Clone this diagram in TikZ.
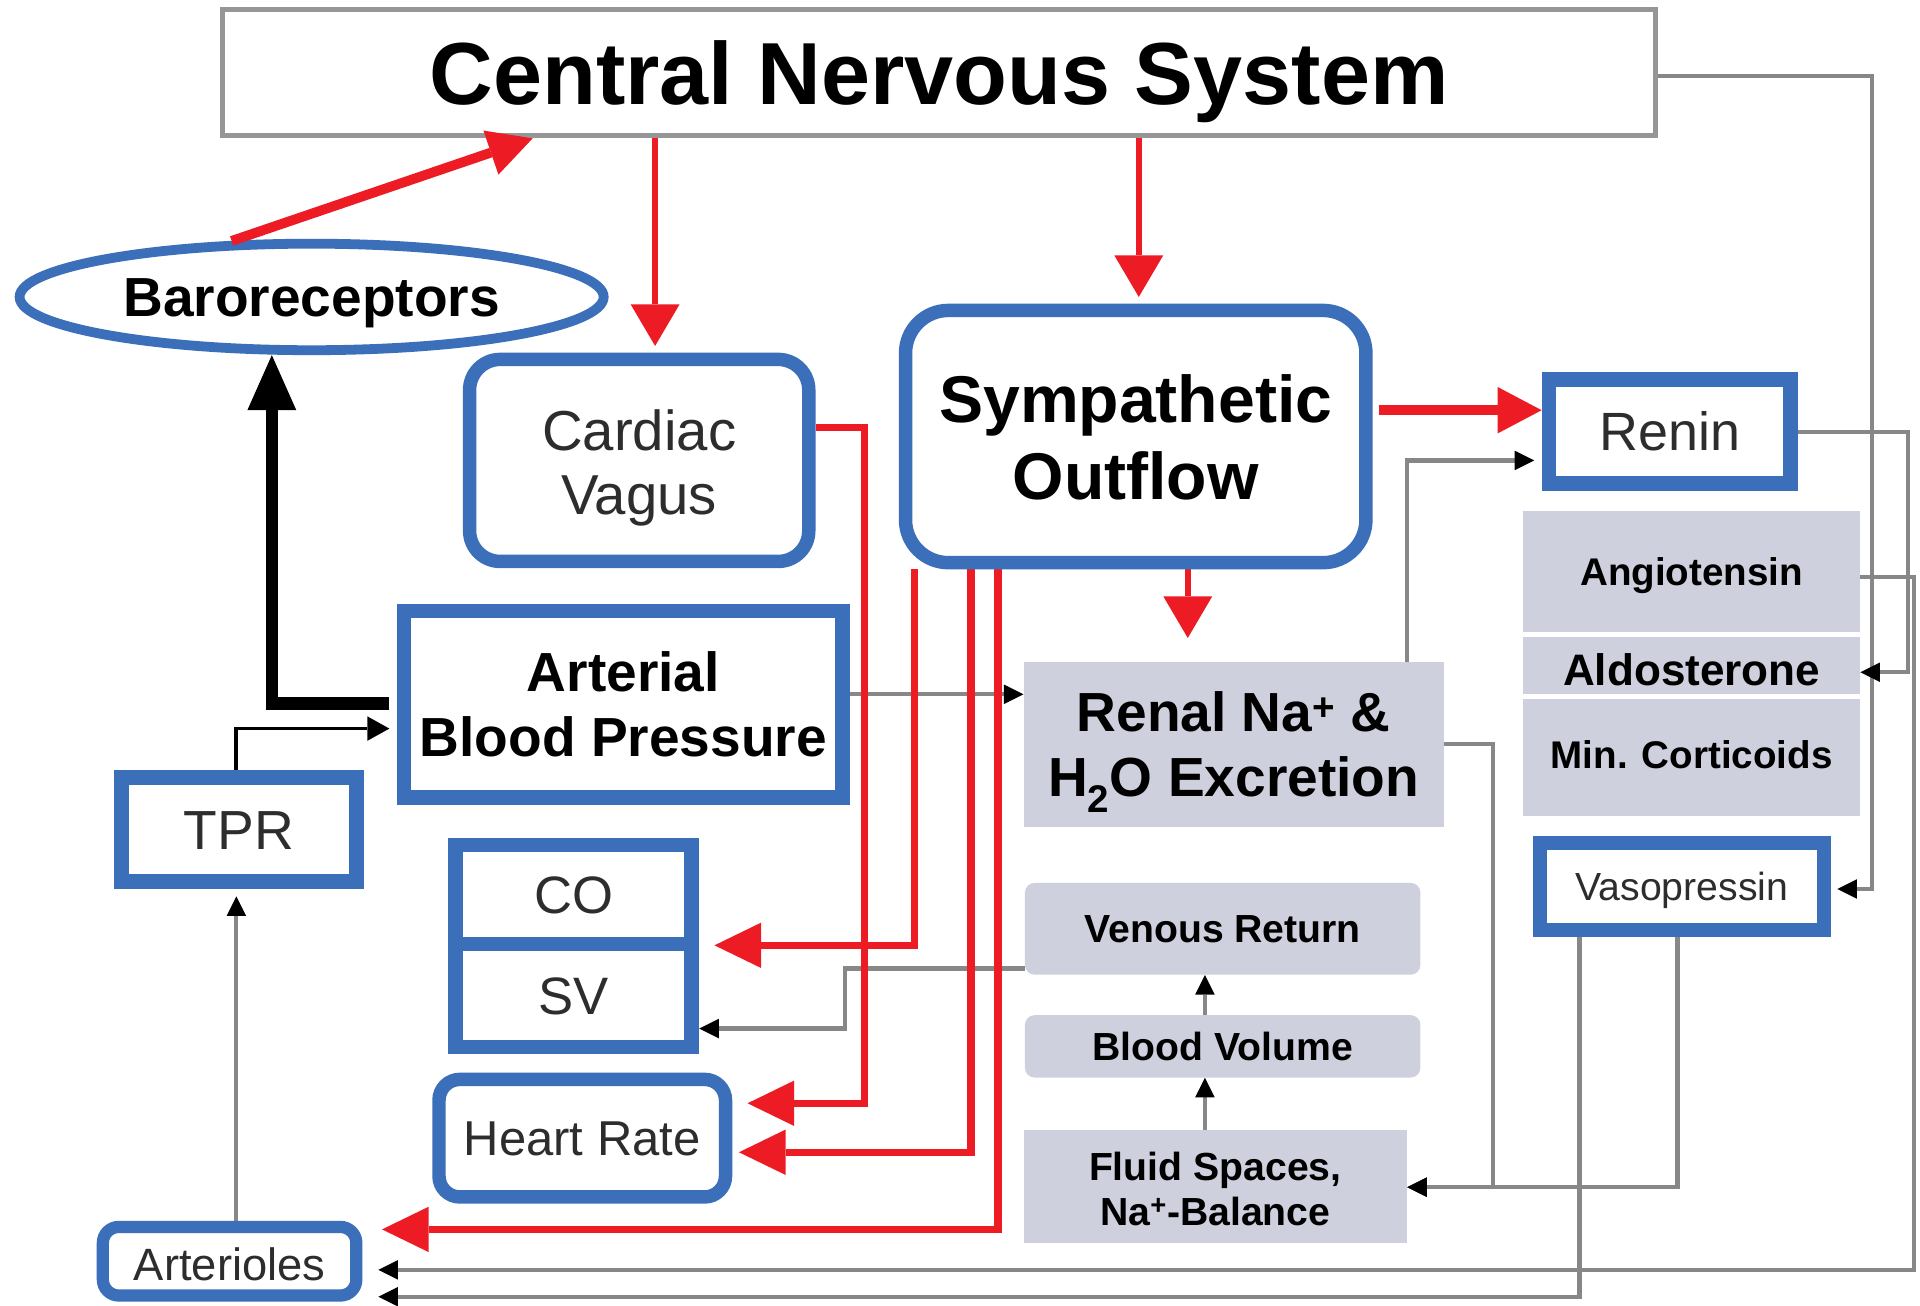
\documentclass[tikz,border=0pt]{standalone}
\usepackage{fontspec}
\setmainfont{Liberation Sans}
\usetikzlibrary{arrows.meta,shapes.geometric}
\pgfdeclarelayer{paper}
\pgfdeclarelayer{conn}
\pgfsetlayers{paper,conn,main}
\definecolor{bblue}{RGB}{59,111,185}
\definecolor{rred}{RGB}{237,28,36}
\definecolor{gfill}{RGB}{207,208,222}
\definecolor{gline}{RGB}{135,135,135}
\definecolor{cnsgray}{RGB}{150,150,150}
\definecolor{txtgray}{RGB}{45,45,45}
\newcommand\fsz[2]{\fontsize{#1pt}{#2pt}\selectfont}
\newcommand\mytop[1]{\rule{0pt}{#1pt}}
\newcommand\mybot[1]{\rule[-#1pt]{0pt}{#1pt}}
\tikzset{
  bluebox/.style={draw=bblue, line width=11pt, fill=white, inner sep=0pt, text=txtgray},
  graybox/.style={fill=gfill, draw=none, inner sep=0pt, text=black},
  redthick/.style={draw=rred, line width=8pt, -{Triangle[length=36pt,width=38pt,line width=0pt]}},
  redthin/.style={draw=rred, line width=5pt, -{Triangle[length=34pt,width=40pt,line width=0pt]}},
  redmid/.style={draw=rred, line width=6pt, -{Triangle[length=38pt,width=37pt,line width=0pt]}},
  glink/.style={draw=gline, line width=3.5pt, -{Triangle[length=16pt,width=16pt,line width=0pt,color=black]}},
  blink/.style={draw=black, line width=3pt, -{Triangle[length=18pt,width=20pt,line width=0pt]}},
  bthick/.style={draw=black, line width=10pt, -{Triangle[length=45pt,width=40pt,line width=0pt]}},
}
\begin{document}
\begin{tikzpicture}[x=1pt,y=-1pt]
\useasboundingbox (0,0) rectangle (1568,1066);
\begin{pgfonlayer}{paper}
  \fill[white] (0,0) rectangle (1568,1066);
\end{pgfonlayer}

% ---------------- nodes ----------------
\node[draw=cnsgray, line width=4pt, fill=white, inner sep=0pt, minimum width=1170pt, minimum height=103pt,
      font=\bfseries\fsz{72}{80}, text height=51.5pt, text depth=0pt] (cns) at (767,59.5) {Central Nervous System};
\node[ellipse, draw=bblue, line width=8pt, fill=white, inner sep=0pt, minimum width=477pt, minimum height=87pt,
      font=\bfseries\fsz{45}{50}, text height=32.2pt, text depth=0pt] (baro) at (254.5,242.5) {Baroreceptors};
\node[bluebox, rounded corners=25pt, minimum width=277pt, minimum height=165pt, font=\fsz{46}{52}, align=center]
      (cv) at (522,376) {\mytop{48}Cardiac\\Vagus\mybot{12}};
\node[bluebox, rounded corners=35pt, minimum width=376pt, minimum height=206pt, font=\bfseries\fsz{54}{63}, text=black, align=center]
      (symp) at (927.5,356.5) {\mytop{54}Sympathetic\\Outflow\mybot{14}};
\node[bluebox, line width=12pt, minimum width=197pt, minimum height=85pt, font=\fsz{44}{50},
      text height=31.5pt, text depth=0pt] (renin) at (1363.5,352.5) {Renin};
\node[graybox, minimum width=275pt, minimum height=99pt, font=\bfseries\fsz{31.5}{36},
      text height=22.6pt, text depth=0pt] (ang) at (1381.5,466.5) {Angiotensin};
\node[graybox, minimum width=275pt, minimum height=47pt, font=\bfseries\fsz{36}{40},
      text height=32pt, text depth=0pt] (ald) at (1381.5,543.5) {Aldosterone};
\node[graybox, minimum width=275pt, minimum height=95pt, font=\bfseries\fsz{31.5}{36},
      text height=18pt, text depth=0pt] (mc) at (1381.5,618.5) {Min. Corticoids};
\node[bluebox, minimum width=232pt, minimum height=71pt, font=\fsz{32}{36},
      text height=22.9pt, text depth=0pt] (vaso) at (1373.5,724) {Vasopressin};
\node[bluebox, line width=12pt, minimum width=358pt, minimum height=152pt, font=\bfseries\fsz{45}{53}, text=black, align=center]
      (abp) at (509,575) {\mytop{43}Arterial\\Blood Pressure\mybot{10}};
\node[bluebox, line width=12pt, minimum width=192pt, minimum height=85pt, font=\fsz{45}{50},
      text height=32.2pt, text depth=0pt] (tpr) at (195,677.5) {TPR};
\node[bluebox, line width=12pt, minimum width=193pt, minimum height=81pt, font=\fsz{43}{48},
      text height=30.8pt, text depth=0pt] (co) at (468.5,730.5) {CO};
\node[bluebox, line width=12pt, minimum width=193pt, minimum height=84pt, font=\fsz{43}{48},
      text height=30.8pt, text depth=0pt] (sv) at (468.5,813) {SV};
\node[bluebox, rounded corners=17pt, minimum width=234pt, minimum height=96pt, font=\fsz{40}{46},
      text height=28.6pt, text depth=0pt] (hr) at (475.5,929.5) {Heart Rate};
\node[bluebox, line width=10pt, rounded corners=13pt, minimum width=207pt, minimum height=56pt, font=\fsz{37}{42},
      text height=31.7pt, text depth=0pt] (art) at (187.5,1030) {Arterioles};
\node[graybox, minimum width=343pt, minimum height=134pt, font=\bfseries\fsz{45}{53}, align=center]
      (renal) at (1007.5,608) {\mytop{45}Renal Na\textsuperscript{+} \&\\H\textsubscript{2}O Excretion\mybot{10}};
\node[graybox, rounded corners=8pt, minimum width=323pt, minimum height=75pt, font=\bfseries\fsz{32}{37},
      text height=23pt, text depth=0pt] (vr) at (998.5,758.5) {Venous Return};
\node[graybox, rounded corners=8pt, minimum width=323pt, minimum height=51pt, font=\bfseries\fsz{32}{37},
      text height=23pt, text depth=0pt] (bv) at (998.5,854.5) {Blood Volume};
\node[graybox, minimum width=313pt, minimum height=92pt, font=\bfseries\fsz{32}{37}, align=center]
      (fs) at (992.5,969) {\mytop{35}Fluid Spaces,\\Na\textsuperscript{+}-Balance\mybot{8}};

% ---------------- lane coordinates ----------------
\coordinate (xcv) at (535,0);
\coordinate (xsy) at (930,0);
\coordinate (yre) at (0,335);
\coordinate (sr) at (970,521);
\coordinate (a1) at (706,349);
\coordinate (a2) at (706,901);
\coordinate (b1) at (747,772);
\coordinate (c1) at (793,941);
\coordinate (d1) at (815,1004);
\coordinate (e1) at (0,567);
\coordinate (k1) at (1149,376);
\coordinate (f1) at (690,791);
\coordinate (f2) at (690,840);
\coordinate (g1) at (193,595);
\coordinate (h1) at (193,0);
\coordinate (i1) at (984,0);
\coordinate (j1) at (1219,607.5);
\coordinate (j2) at (1219,969.5);
\coordinate (l1) at (1370,969.5);
\coordinate (m1) at (1290,1059);
\coordinate (n1) at (1529,62);
\coordinate (n2) at (1529,726);
\coordinate (o1) at (1558,353);
\coordinate (o2) at (1558,549);
\coordinate (p1) at (1563,471);
\coordinate (p2) at (1563,1037);
\coordinate (q1) at (222,574.5);

% ---------------- connectors under the boxes ----------------
\begin{pgfonlayer}{conn}
  % grey / black thin links
  \draw[glink] (abp.east |- e1) -- (renal.west |- e1);
  \draw[glink, shorten >=6pt] (renal.north -| k1) -- (k1) -- (renin.west |- k1);
  \draw[glink] (vr.west |- f1) -- (f1) -- (f2) -- (sv.east |- f2);
  \draw[blink, shorten >=6pt] (tpr.north -| g1) -- (g1) -- (abp.west |- g1);
  \draw[glink, shorten >=6pt] (art.north -| h1) -- (tpr.south -| h1);
  \draw[glink] (bv.north -| i1) -- (vr.south -| i1);
  \draw[glink] (fs.north -| i1) -- (bv.south -| i1);
  \draw[glink] (renal.east |- j1) -- (j1) -- (j2) -- (fs.east |- j2);
  \draw[glink] (vaso.south -| l1) -- (l1) -- (fs.east |- l1);
  \draw[glink, shorten >=13pt] (vaso.south -| m1) -- (m1) -- (art.east |- m1);
  \draw[glink, shorten >=5.5pt] (cns.east |- n1) -- (n1) -- (n2) -- (vaso.east |- n2);
  \draw[glink] (renin.east |- o1) -- (o1) -- (o2) -- (ald.east |- o2);
  \draw[glink, shorten >=13pt] (ang.east |- p1) -- (p1) -- (p2) -- (art.east |- p2);
  % red links
  \draw[redthin, shorten >=5.5pt] (cns.south -| xcv) -- (cv.north -| xcv);
  \draw[redthin, shorten >=5.5pt] (cns.south -| xsy) -- (symp.north -| xsy);
  \draw[redthin] (symp.south -| sr) -- (sr);
  \draw[redmid, shorten >=12.5pt] (cv.east |- a1) -- (a1) -- (a2) -- (hr.east |- a2);
  \draw[redmid, shorten >=12.5pt] (symp.south -| b1) -- (b1) -- (co.east |- b1);
  \draw[redmid, shorten >=5.5pt] (symp.south -| c1) -- (c1) -- (hr.east |- c1);
  \draw[redmid, shorten >=16pt] (symp.south -| d1) -- (d1) -- (art.east |- d1);
\end{pgfonlayer}

% ---------------- connectors over the boxes ----------------
\draw[redthick] (baro.145) -- ([xshift=255pt]cns.south west);
\draw[redthick, shorten <=5.5pt] (symp.east |- yre) -- (renin.west |- yre);
\draw[bthick, shorten <=6pt] (abp.west |- q1) -- (q1) -- (baro.south -| q1);
\end{tikzpicture}
\end{document}
